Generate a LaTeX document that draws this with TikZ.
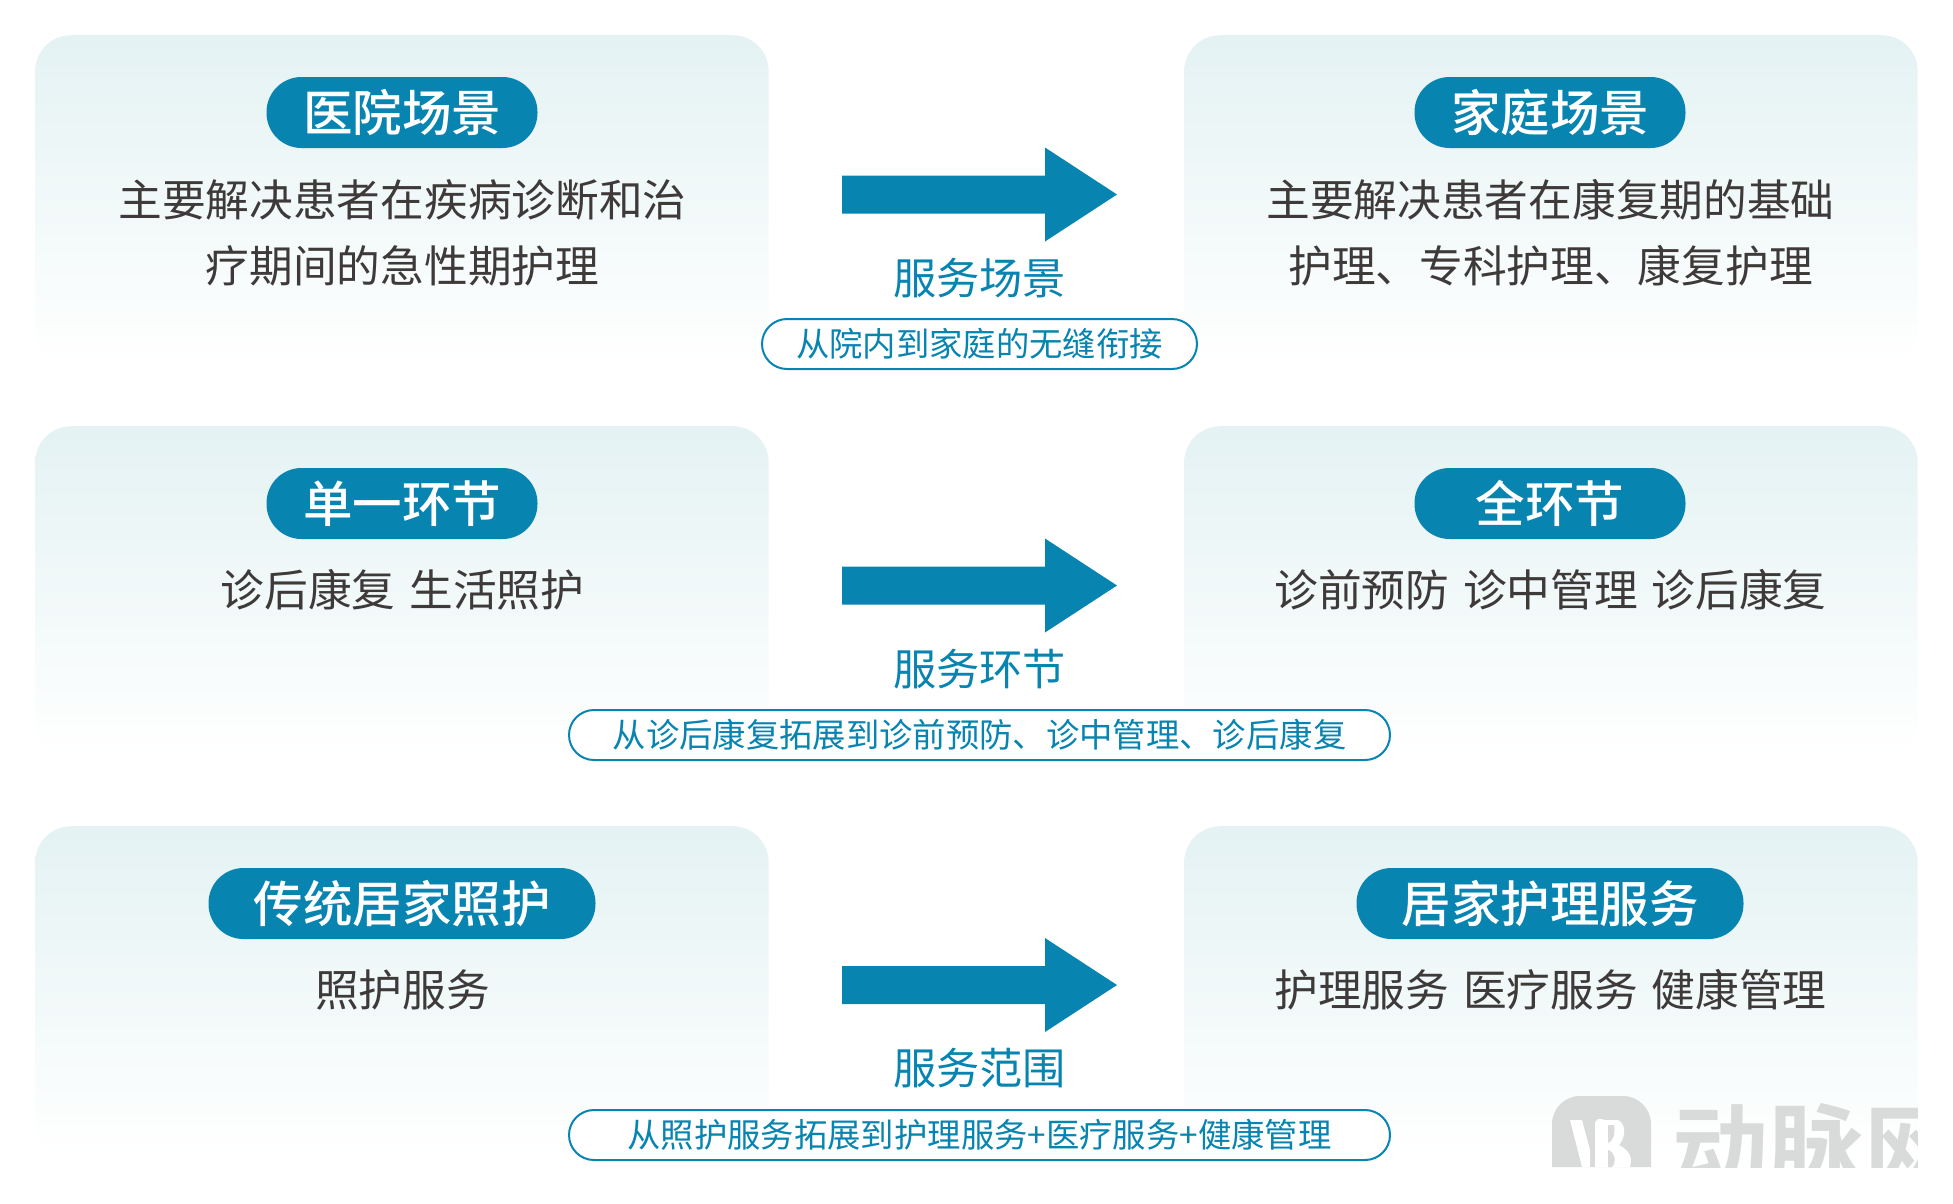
\documentclass[tikz,border=0pt]{standalone}
\usepackage{fontspec}
\setmainfont{Noto Sans CJK SC}
\newfontfamily\boldcjk{Noto Sans CJK SC Bold}
\newfontfamily\medcjk{Noto Sans CJK SC Medium}
\definecolor{brandblue}{HTML}{0884B1}
\definecolor{cardtop}{HTML}{E4F2F3}
\definecolor{bodyink}{HTML}{3E3A39}
\definecolor{markgray}{HTML}{D9DBDB}
\newcommand{\fsz}[1]{\fontsize{#1}{#1}\selectfont}
\tikzset{
  cardbox/.style={minimum width=733.5pt,minimum height=330pt,rounded corners=36pt,top color=cardtop,bottom color=white,inner sep=0pt,draw=none},
  titlepill/.style={fill=brandblue,text=white,rounded corners=35pt,minimum height=71pt,inner sep=0pt,font=\medcjk\fsz{49.5}},
  bodytext/.style={text=bodyink,font=\fsz{43.7},inner sep=0pt},
  midlabel/.style={text=brandblue,font=\fsz{43.2},inner sep=0pt},
  subpill/.style={draw=brandblue,line width=2pt,fill=white,text=brandblue,rounded corners=25pt,minimum height=50pt,inner sep=0pt,font=\fsz{33.35}},
  bigarrow/.style={fill=brandblue,draw=none},
}
\newcommand{\blockarrow}[1]{%
  \fill[bigarrow] (842,#1+175) -- (1045,#1+175) -- (1045,#1+147) -- (1117,#1+194) -- (1045,#1+241) -- (1045,#1+213) -- (842,#1+213) -- cycle;}
\begin{document}
\begin{tikzpicture}[x=1pt,y=-1pt]
\useasboundingbox (0,0) rectangle (1953,1203);
% row 1
\node[cardbox,anchor=north west] (c1l) at (35,35) {};
\node[cardbox,anchor=north west] (c1r) at (1184,35) {};
\node[titlepill,minimum width=271pt] (t1l) at (402,112.5) {医院场景};
\node[titlepill,minimum width=271pt] (t1r) at (1550,112.5) {家庭场景};
\node[bodytext] (b1la) at (402.5,199.5) {主要解决患者在疾病诊断和治};
\node[bodytext] (b1lb) at (402.5,265.5) {疗期间的急性期护理};
\node[bodytext] (b1ra) at (1550.5,199.5) {主要解决患者在康复期的基础};
\node[bodytext] (b1rb) at (1550.5,265.5) {护理、专科护理、康复护理};
\blockarrow{0.5}
\node[midlabel] (m1) at (979.5,278) {服务场景};
\node[subpill,minimum width=435pt] (s1) at (979.5,344) {从院内到家庭的无缝衔接};
% row 2
\node[cardbox,anchor=north west] (c2l) at (35,426) {};
\node[cardbox,anchor=north west] (c2r) at (1184,426) {};
\node[titlepill,minimum width=271pt] (t2l) at (402,503.5) {单一环节};
\node[titlepill,minimum width=271pt] (t2r) at (1550,503.5) {全环节};
\node[bodytext] (b2l) at (402.5,590) {诊后康复\hspace{14pt}生活照护};
\node[bodytext] (b2r) at (1550.5,590) {诊前预防\hspace{14pt}诊中管理\hspace{14pt}诊后康复};
\blockarrow{391.5}
\node[midlabel] (m2) at (979.5,669) {服务环节};
\node[subpill,minimum width=821pt] (s2) at (979.5,735) {从诊后康复拓展到诊前预防、诊中管理、诊后康复};
% row 3
\node[cardbox,anchor=north west] (c3l) at (35,826) {};
\node[cardbox,anchor=north west] (c3r) at (1184,826) {};
\node[titlepill,minimum width=387pt] (t3l) at (402,903.5) {传统居家照护};
\node[titlepill,minimum width=387pt] (t3r) at (1550,903.5) {居家护理服务};
\node[bodytext] (b3l) at (402.5,990) {照护服务};
\node[bodytext] (b3r) at (1550.5,990) {护理服务\hspace{14pt}医疗服务\hspace{14pt}健康管理};
\blockarrow{791}
\node[midlabel] (m3) at (979.5,1068) {服务范围};
\node[subpill,minimum width=821pt] (s3) at (979.5,1135) {从照护服务拓展到护理服务+医疗服务+健康管理};
% watermark
\fill[markgray,rounded corners=28pt] (1552,1167) [sharp corners] -- (1552,1140) [rounded corners=28pt] -- (1552,1096) -- (1651,1096) [sharp corners] -- (1651,1167) -- cycle;
\fill[white] (1570,1120) -- (1582,1120) -- (1590,1150) -- (1590,1167) -- (1582,1167) -- cycle;
\fill[white] (1595,1125) .. controls (1595,1118) and (1600,1118) .. (1605,1120) -- (1618,1120) .. controls (1628,1125) and (1624,1140) .. (1619,1145) .. controls (1632,1152) and (1632,1160) .. (1630,1167) -- (1595,1167) -- cycle;
\fill[markgray] (1608,1125) -- (1614,1125) .. controls (1616,1135) and (1612,1142) .. (1608,1143) -- cycle;
\fill[markgray] (1608,1150) .. controls (1615,1152) and (1617,1162) .. (1612,1167) -- (1608,1167) -- cycle;
\begin{scope}
\clip (1660,1090) rectangle (1917,1167);
\node[text=markgray,font=\boldcjk\fsz{96},inner sep=0pt,anchor=west] (wm) at (1672,1148) {动脉网};
\end{scope}
\end{tikzpicture}
\end{document}
